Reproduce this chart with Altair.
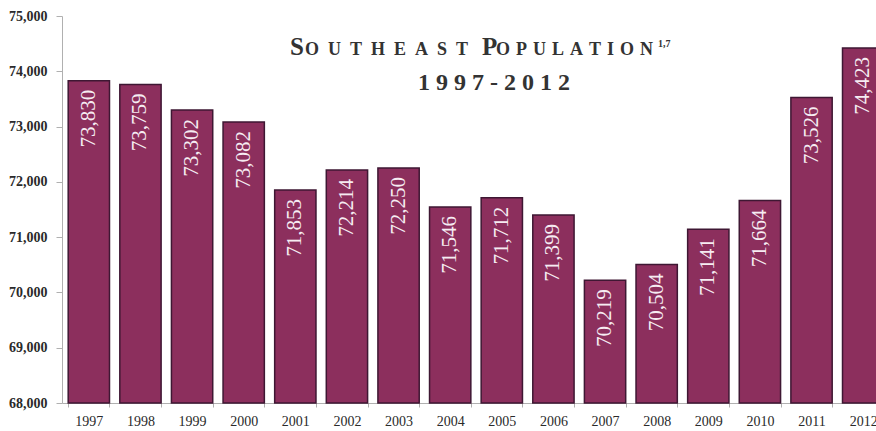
import altair as alt
import pandas as pd

years = ["1997", "1998", "1999", "2000", "2001", "2002", "2003", "2004",
         "2005", "2006", "2007", "2008", "2009", "2010", "2011", "2012"]
population = [73830, 73759, 73302, 73082, 71853, 72214, 72250, 71546,
              71712, 71399, 70219, 70504, 71141, 71664, 73526, 74423]
y_ticks = [68000, 69000, 70000, 71000, 72000, 73000, 74000, 75000]

title_pieces = ["S", "OUTHEAST", "P", "OPULATION", "1,7"]
subtitle = "1997-2012"

df = pd.DataFrame({"year": years, "pop": population})

SERIF = "Liberation Serif"

x_enc = alt.X("year:N", sort=years, title=None,
              scale=alt.Scale(paddingInner=0.2, paddingOuter=0.12),
              axis=alt.Axis(labelAngle=0, labelFont=SERIF, labelFontSize=14,
                            labelColor="#2a2a2a", tickBand="extent", tickSize=4,
                            labelPadding=7, domainColor="#b0b0b0",
                            tickColor="#b0b0b0", grid=False))
y_enc = alt.Y("pop:Q", title=None,
              scale=alt.Scale(domain=[68000, 75000], zero=False, nice=False),
              axis=alt.Axis(values=y_ticks, format=",.0f", labelFont=SERIF,
                            labelFontSize=14, labelColor="#2a2a2a",
                            labelFontWeight="bold", tickSize=6, labelPadding=9,
                            domainColor="#b0b0b0", tickColor="#b0b0b0",
                            grid=False))

base = alt.Chart(df)

bars = base.mark_bar(color="#8c2f5d", stroke="#3e1733", strokeWidth=1.5).encode(
    x=x_enc, y=y_enc, y2=alt.datum(68000)
)

labels = base.mark_text(angle=270, align="right", baseline="middle", dx=-9,
                        font=SERIF, fontSize=21, color="#f6ecf2").encode(
    x=alt.X("year:N", sort=years),
    y=alt.Y("pop:Q"),
    text=alt.Text("pop:Q", format=",.0f"),
)


def spaced(s, sep):
    return sep.join(list(s))


def title_text(txt, xpos, ypos, size, align="left"):
    return alt.Chart(pd.DataFrame({"t": [txt]})).mark_text(
        font=SERIF, fontSize=size, fontWeight="bold", color="#333333",
        align=align, baseline="alphabetic"
    ).encode(x=alt.value(xpos), y=alt.value(ypos), text="t:N")


t1 = title_text(title_pieces[0], 228, 39, 25)
t2 = title_text(spaced(title_pieces[1], "\u2002"), 243, 39, 18)
t3 = title_text(title_pieces[2], 420, 39, 25)
t4 = title_text(spaced(title_pieces[3], "\u2004"), 434, 39, 18)
t5 = title_text(title_pieces[4], 596, 31, 10)
t6 = title_text(spaced(subtitle, "\u2005"), 432, 74, 24, align="center")

chart = alt.layer(bars, labels, t1, t2, t3, t4, t5, t6).properties(
    width=828, height=387,
    autosize=alt.AutoSizeParams(type="none"),
    padding={"left": 62, "top": 16, "right": -14, "bottom": 28},
    background="white",
).configure_view(stroke=None)

chart.save("out.html", embed_options={"renderer": "svg", "actions": False})
